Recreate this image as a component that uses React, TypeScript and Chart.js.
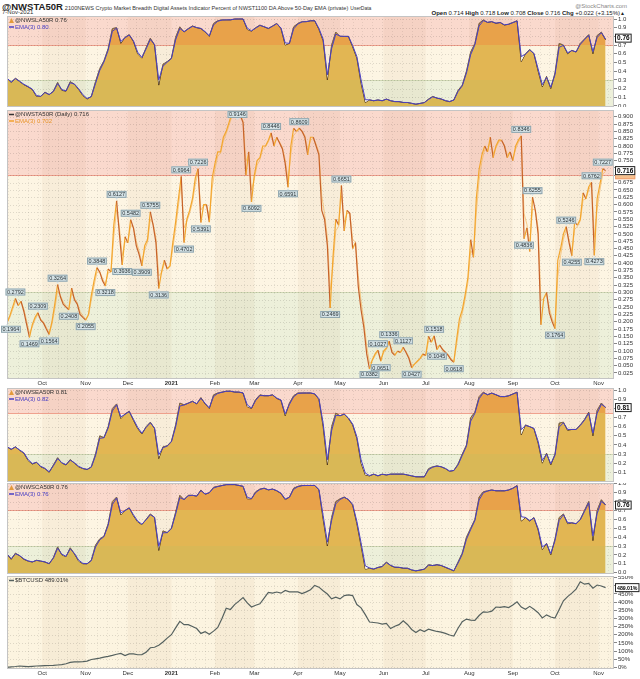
import React, { useEffect, useRef } from 'react';
import { Chart, registerables } from 'chart.js';

Chart.register(...registerables);

const FONT = '"Liberation Sans", Arial, Helvetica, sans-serif';

// ---------- calendar ----------
const START_DATE = Date.UTC(2020, 8, 6); // first plotted day
const MAIN_STEP = 2; // days between samples of the main series
const PANEL_STEP = 3; // days between samples of the other panels
const X_MAX = 432;

const MONTH_TICKS: [number, number, string][] = [
  [2020, 9, 'Oct'], [2020, 10, 'Nov'], [2020, 11, 'Dec'], [2021, 0, '2021'], [2021, 1, 'Feb'],
  [2021, 2, 'Mar'], [2021, 3, 'Apr'], [2021, 4, 'May'], [2021, 5, 'Jun'], [2021, 6, 'Jul'],
  [2021, 7, 'Aug'], [2021, 8, 'Sep'], [2021, 9, 'Oct'], [2021, 10, 'Nov'],
];
const STRIPE_MONTHS: [number, number][] = [
  [2020, 8], [2020, 9], [2020, 10], [2020, 11], [2021, 0], [2021, 1], [2021, 2], [2021, 3],
  [2021, 4], [2021, 5], [2021, 6], [2021, 7], [2021, 8], [2021, 9], [2021, 10], [2021, 11],
];
const dayIndex = (y: number, m: number) => Math.round((Date.UTC(y, m, 1) - START_DATE) / 86400000);

// ---------- data ----------
const NWSTA50R = [
  0.1964, 0.22, 0.25, 0.2792, 0.255, 0.27, 0.235, 0.19, 0.1469, 0.19,
  0.215, 0.2309, 0.205, 0.195, 0.175, 0.1564, 0.2, 0.26, 0.3264, 0.285,
  0.26, 0.25, 0.2408, 0.315, 0.275, 0.26, 0.225, 0.215, 0.2055, 0.225,
  0.29, 0.34, 0.3848, 0.37, 0.34, 0.3218, 0.38, 0.37, 0.53, 0.6127,
  0.5, 0.3936, 0.49, 0.47, 0.5482, 0.52, 0.46, 0.43, 0.3909, 0.46,
  0.48, 0.5755, 0.53, 0.47, 0.3136, 0.37, 0.41, 0.38, 0.39, 0.47,
  0.54, 0.62, 0.6964, 0.4702, 0.55, 0.58, 0.62, 0.69, 0.7226, 0.5391,
  0.6, 0.6, 0.54, 0.69, 0.74, 0.78, 0.78, 0.83, 0.85, 0.88,
  0.91, 0.905, 0.9146, 0.905, 0.88, 0.7, 0.78, 0.6092, 0.7, 0.75,
  0.76, 0.8, 0.8, 0.82, 0.8446, 0.8, 0.83, 0.81, 0.79, 0.74,
  0.6591, 0.8, 0.86, 0.85, 0.8609, 0.85, 0.83, 0.77, 0.83, 0.83,
  0.8, 0.77, 0.58, 0.55, 0.46, 0.2469, 0.42, 0.55, 0.53, 0.6651,
  0.51, 0.58, 0.57, 0.45, 0.47, 0.32, 0.24, 0.18, 0.09, 0.0382,
  0.07, 0.09, 0.1027, 0.0651, 0.1, 0.11, 0.1336, 0.095, 0.085, 0.1,
  0.095, 0.1127, 0.095, 0.075, 0.0427, 0.055, 0.065, 0.075, 0.09, 0.085,
  0.15, 0.13, 0.1518, 0.1045, 0.12, 0.105, 0.095, 0.085, 0.07, 0.0618,
  0.14, 0.21, 0.24, 0.29, 0.35, 0.48, 0.42, 0.62, 0.72, 0.77,
  0.8, 0.78, 0.83, 0.76, 0.8, 0.82, 0.82, 0.8, 0.76, 0.78,
  0.75, 0.8, 0.82, 0.8346, 0.4836, 0.52, 0.44, 0.6255, 0.58, 0.5,
  0.19, 0.28, 0.3, 0.23, 0.2, 0.1764, 0.41, 0.45, 0.5, 0.5246,
  0.47, 0.4255, 0.54, 0.53, 0.55, 0.64, 0.62, 0.66, 0.6762, 0.4273,
  0.62, 0.67, 0.7227, 0.716,
];
const PEAK_IDX = [3, 11, 18, 32, 39, 44, 51, 62, 68, 82, 94, 104, 119, 132, 136, 141, 152, 183, 187, 199, 208, 212];
const TROUGH_IDX = [0, 8, 15, 22, 28, 35, 41, 48, 54, 63, 69, 87, 100, 115, 129, 133, 144, 153, 159, 184, 195, 201, 209];

const NWSLA50R = [
  0.32, 0.27, 0.32, 0.28, 0.245, 0.22, 0.19, 0.11, 0.11, 0.16,
  0.13, 0.17, 0.27, 0.18, 0.17, 0.28, 0.25, 0.19, 0.12, 0.08,
  0.11, 0.28, 0.43, 0.52, 0.66, 0.89, 0.9, 0.72, 0.79, 0.82,
  0.74, 0.6, 0.55, 0.67, 0.78, 0.7, 0.24, 0.48, 0.51, 0.55,
  0.79, 0.91, 0.85, 0.89, 0.92, 0.9, 0.89, 0.85, 0.8, 0.95,
  0.98, 0.99, 0.99, 0.99, 1.0, 1.0, 1.0, 0.88, 0.86, 0.9,
  0.93, 0.91, 0.89, 0.92, 0.95, 0.89, 0.7, 0.72, 0.91, 0.95,
  0.97, 0.97, 0.98, 0.98, 0.88, 0.75, 0.3, 0.7, 0.85, 0.8,
  0.8, 0.8, 0.68, 0.55, 0.26, 0.04, 0.07, 0.06, 0.07, 0.06,
  0.08, 0.06, 0.05, 0.05, 0.04, 0.04, 0.03, 0.02, 0.03, 0.04,
  0.08, 0.11, 0.09, 0.08, 0.06, 0.05, 0.07, 0.18, 0.24, 0.4,
  0.62, 0.72, 0.95, 0.99, 0.96, 0.97, 0.95, 0.96, 0.93, 0.94,
  0.96, 0.98, 0.51, 0.6, 0.65, 0.6, 0.4, 0.22, 0.34, 0.2,
  0.38, 0.72, 0.7, 0.6, 0.64, 0.62, 0.72, 0.77, 0.82, 0.6,
  0.81, 0.85, 0.76,
];
const NWSEA50R = [
  0.38, 0.35, 0.38, 0.34, 0.31, 0.23, 0.19, 0.21, 0.16, 0.14,
  0.1, 0.18, 0.26, 0.2, 0.18, 0.24, 0.2, 0.16, 0.14, 0.13,
  0.16, 0.3, 0.5, 0.48, 0.6, 0.8, 0.85, 0.69, 0.74, 0.77,
  0.67, 0.58, 0.52, 0.6, 0.65, 0.58, 0.25, 0.38, 0.39, 0.44,
  0.62, 0.86, 0.84, 0.86, 0.88, 0.85, 0.92, 0.85, 0.8, 0.95,
  0.97, 0.98, 0.99, 0.99, 0.98, 0.98, 0.97, 0.82, 0.8, 0.9,
  0.95, 0.94, 0.94, 0.95, 0.91, 0.89, 0.72, 0.86, 0.94, 0.97,
  0.97, 0.97, 0.97, 0.96, 0.9, 0.6, 0.18, 0.6, 0.75, 0.72,
  0.74, 0.69, 0.62, 0.47, 0.2, 0.07, 0.06, 0.08, 0.06, 0.08,
  0.07, 0.08, 0.08, 0.08, 0.08, 0.07, 0.06, 0.05, 0.05, 0.05,
  0.14, 0.16, 0.17, 0.16, 0.14, 0.11, 0.12, 0.19, 0.3, 0.4,
  0.7, 0.76, 0.93, 0.98, 0.95, 0.97, 0.95, 0.93, 0.93, 0.94,
  0.96, 0.98, 0.51, 0.62, 0.6, 0.58, 0.42, 0.2, 0.31, 0.18,
  0.3, 0.64, 0.65, 0.56, 0.57, 0.57, 0.62, 0.68, 0.76, 0.5,
  0.78, 0.86, 0.81,
];
const NWSCA50R = [
  0.21, 0.15, 0.22, 0.19, 0.15, 0.13, 0.12, 0.14, 0.13, 0.12,
  0.1, 0.17, 0.29, 0.2, 0.18, 0.28, 0.21, 0.13, 0.1, 0.1,
  0.14, 0.31, 0.38, 0.41, 0.55, 0.8, 0.85, 0.65, 0.7, 0.73,
  0.64, 0.57, 0.54, 0.6, 0.66, 0.62, 0.25, 0.47, 0.45, 0.5,
  0.68, 0.87, 0.82, 0.87, 0.87, 0.86, 0.93, 0.88, 0.9, 0.96,
  0.97, 0.98, 0.99, 0.99, 0.99, 0.98, 0.97, 0.83, 0.83, 0.91,
  0.94, 0.95, 0.93, 0.94, 0.92, 0.89, 0.82, 0.85, 0.95, 0.97,
  0.98, 0.98, 0.98, 0.98, 0.93, 0.6, 0.3, 0.62, 0.8, 0.83,
  0.85, 0.82, 0.76, 0.55, 0.3, 0.04, 0.05, 0.04, 0.06, 0.07,
  0.12, 0.08, 0.06, 0.06, 0.05, 0.05, 0.03, 0.02, 0.03, 0.04,
  0.09, 0.08, 0.09, 0.08, 0.06, 0.04, 0.02, 0.12, 0.22, 0.4,
  0.5, 0.6, 0.85, 0.91, 0.92, 0.93, 0.92, 0.92, 0.92, 0.93,
  0.95, 0.98, 0.58, 0.62, 0.58, 0.62, 0.48, 0.26, 0.33, 0.2,
  0.38, 0.62, 0.66, 0.55, 0.56, 0.55, 0.6, 0.7, 0.8, 0.36,
  0.7, 0.82, 0.76,
];
const BTCUSD = [
  0, 3, 5, 8, 6, 4, 6, 8, 9, 10,
  11, 12, 14, 16, 22, 30, 33, 33, 35, 38,
  48, 52, 56, 62, 67, 73, 80, 85, 72, 82,
  82, 77, 78, 93, 120, 123, 135, 155, 179, 200,
  242, 282, 262, 262, 250, 238, 208, 218, 203, 222,
  245, 300, 363, 355, 385, 406, 428, 395, 370, 381,
  390, 425, 460, 455, 462, 455, 472, 463, 463, 463,
  453, 463, 476, 503, 492, 470, 450, 420, 430, 420,
  440, 445, 440, 385, 365, 323, 278, 275, 272, 265,
  270, 238, 252, 262, 285, 263, 232, 214, 231, 220,
  234, 227, 220, 216, 208, 198, 192, 240, 280, 296,
  290, 288, 318, 340, 338, 345, 370, 368, 372, 367,
  382, 402, 370, 356, 374, 356, 335, 303, 322, 309,
  302, 355, 408, 434, 455, 480, 525, 510, 515, 486,
  505, 499, 489,
];

const TICKS_0_10 = [0, 0.1, 0.2, 0.3, 0.4, 0.5, 0.6, 0.7, 0.8, 0.9, 1.0];
const TICKS_1_10 = [0.1, 0.2, 0.3, 0.4, 0.5, 0.6, 0.7, 0.8, 0.9, 1.0];
const MAIN_TICKS = [
  0.025, 0.05, 0.075, 0.1, 0.125, 0.15, 0.175, 0.2, 0.225, 0.25, 0.275, 0.3,
  0.325, 0.35, 0.375, 0.4, 0.425, 0.45, 0.475, 0.5, 0.525, 0.55, 0.575, 0.6,
  0.625, 0.65, 0.675, 0.7, 0.725, 0.75, 0.775, 0.8, 0.825, 0.85, 0.875, 0.9,
];
const BTC_TICKS = [0, 50, 100, 150, 200, 250, 300, 350, 400, 450, 500, 550];

// ---------- helpers ----------
const toPoints = (vals: number[], step: number) => vals.map((v, i) => ({ x: i * step, y: v }));
const emaOf = (vals: number[], step: number) => {
  const a = 1 - Math.pow(0.5, step); // EMA(3) per day, applied to sampled data
  const out: number[] = [];
  let e = vals[0];
  for (const v of vals) { e = a * v + (1 - a) * e; out.push(e); }
  return out;
};

const RED_BG = '#FAD9CD';
const MID_BG = '#FDF5E3';
const LOW_BG = '#EDF0DA';
const RED_FILL = '#E8A24A';
const MID_FILL = '#E2B653';
const LOW_FILL = '#D9B856';

type LegendItem = { marker: 'tri' | 'dash'; mColor: string; text: string; tColor: string };
type Cfg = {
  kind: 'ind' | 'main' | 'btc';
  values: number[];
  step: number;
  yMin: number; yMax: number; yTicks: number[];
  fmt: (v: number) => string;
  redFrom?: number;
  showX: boolean; xHeight: number;
  legend: LegendItem[];
  box: { v: number; text: string; ema?: number };
};

function zoneFill(redFrom: number) {
  return (c: any) => {
    const chart = c.chart;
    const a = chart.chartArea;
    if (!a || !chart.scales.y) return MID_FILL;
    const y = chart.scales.y;
    const cl = (t: number) => Math.max(0, Math.min(1, t));
    const g = chart.ctx.createLinearGradient(0, a.top, 0, a.bottom);
    const p1 = cl((y.getPixelForValue(redFrom) - a.top) / (a.bottom - a.top));
    const p2 = cl((y.getPixelForValue(0.3) - a.top) / (a.bottom - a.top));
    g.addColorStop(0, RED_FILL); g.addColorStop(p1, RED_FILL);
    g.addColorStop(p1, MID_FILL); g.addColorStop(p2, MID_FILL);
    g.addColorStop(p2, LOW_FILL); g.addColorStop(1, LOW_FILL);
    return g;
  };
}

function makeChart(canvas: HTMLCanvasElement, cfg: Cfg) {
  const pts = toPoints(cfg.values, cfg.step);
  const emaVals = emaOf(cfg.values, cfg.step);
  const emaPts = toPoints(emaVals, cfg.step);

  let datasets: any[] = [];
  if (cfg.kind === 'ind') {
    datasets = [
      { data: pts, borderColor: '#4e3519', borderWidth: 1, pointRadius: 0, fill: 'start', backgroundColor: zoneFill(cfg.redFrom || 0.7), order: 2 },
      { data: emaPts, borderColor: '#4a40c6', borderWidth: 1, pointRadius: 0, fill: { target: 0, above: 'rgba(248,246,238,0.92)', below: 'rgba(0,0,0,0)' }, order: 1 },
    ];
  } else if (cfg.kind === 'main') {
    datasets = [
      {
        data: pts, borderWidth: 1.2, borderColor: '#F2A22E', pointRadius: 0, order: 1,
        segment: { borderColor: (c: any) => (c.p1.parsed.y >= c.p0.parsed.y ? '#F3A62E' : '#C6622A') },
      },
      { data: emaPts, borderColor: 'rgba(246,186,100,0.75)', borderWidth: 1, pointRadius: 0, order: 2 },
    ];
  } else {
    datasets = [{ data: pts, borderColor: '#55615f', borderWidth: 1.2, pointRadius: 0, order: 1 }];
  }

  const bands = cfg.kind === 'btc'
    ? [{ from: cfg.yMin, to: cfg.yMax, color: '#FCF4E0' }]
    : [
        { from: cfg.yMin, to: 0.3, color: LOW_BG },
        { from: 0.3, to: cfg.redFrom || 0.7, color: MID_BG },
        { from: cfg.redFrom || 0.7, to: cfg.yMax, color: RED_BG },
      ];

  const plugin = {
    id: 'panelDeco',
    beforeDatasetsDraw(chart: any) {
      const { ctx, chartArea: a, scales } = chart;
      const y = scales.y, x = scales.x;
      ctx.save();
      ctx.beginPath(); ctx.rect(a.left, a.top, a.width, a.height); ctx.clip();
      for (const b of bands) {
        const y1 = y.getPixelForValue(b.to), y2 = y.getPixelForValue(b.from);
        ctx.fillStyle = b.color; ctx.fillRect(a.left, y1, a.width, y2 - y1);
      }
      for (let i = 0; i < STRIPE_MONTHS.length - 1; i++) {
        if (STRIPE_MONTHS[i][1] % 2 === 1) {
          const x1 = x.getPixelForValue(dayIndex(STRIPE_MONTHS[i][0], STRIPE_MONTHS[i][1]));
          const x2 = x.getPixelForValue(dayIndex(STRIPE_MONTHS[i + 1][0], STRIPE_MONTHS[i + 1][1]));
          ctx.fillStyle = 'rgba(150,105,40,0.05)';
          ctx.fillRect(x1, a.top, x2 - x1, a.height);
        }
      }
      if (cfg.kind !== 'btc') {
        ctx.strokeStyle = 'rgba(235,140,120,0.8)'; ctx.lineWidth = 1;
        const ry = Math.round(y.getPixelForValue(cfg.redFrom || 0.7)) + 0.5;
        ctx.beginPath(); ctx.moveTo(a.left, ry); ctx.lineTo(a.right, ry); ctx.stroke();
        ctx.strokeStyle = 'rgba(200,210,170,0.8)';
        const gy = Math.round(y.getPixelForValue(0.3)) + 0.5;
        ctx.beginPath(); ctx.moveTo(a.left, gy); ctx.lineTo(a.right, gy); ctx.stroke();
      }
      ctx.setLineDash([1, 2]);
      ctx.strokeStyle = 'rgba(0,0,0,0.12)'; ctx.lineWidth = 1;
      for (const t of cfg.yTicks) {
        const py = Math.round(y.getPixelForValue(t)) + 0.5;
        ctx.beginPath(); ctx.moveTo(a.left, py); ctx.lineTo(a.right, py); ctx.stroke();
      }
      ctx.strokeStyle = 'rgba(0,0,0,0.08)';
      for (let d = 1; d < X_MAX; d += 7) {
        const px = Math.round(x.getPixelForValue(d)) + 0.5;
        ctx.beginPath(); ctx.moveTo(px, a.top); ctx.lineTo(px, a.bottom); ctx.stroke();
      }
      ctx.restore();
    },
    afterDraw(chart: any) {
      const { ctx, chartArea: a, scales } = chart;
      const y = scales.y, x = scales.x;
      ctx.save();
      // border
      ctx.strokeStyle = '#c4c4c4'; ctx.lineWidth = 1;
      ctx.strokeRect(a.left + 0.5, a.top + 0.5, a.width - 1, a.height - 1);

      // annotations on the main panel
      if (cfg.kind === 'main') {
        ctx.font = `5.5px ${FONT}`;
        ctx.textAlign = 'center'; ctx.textBaseline = 'middle';
        const drawLabel = (idx: number, up: boolean) => {
          const v = cfg.values[idx];
          const px = x.getPixelForValue(idx * cfg.step);
          const py = y.getPixelForValue(v);
          const txt = v.toFixed(4);
          const w = ctx.measureText(txt).width + 3, h = 7;
          let top = up ? py - 3 - h : py + 3;
          top = Math.max(a.top + 1, Math.min(a.bottom - h - 1, top));
          const left = Math.max(1, px - w / 2);
          ctx.fillStyle = '#D5E2E6'; ctx.strokeStyle = '#8FA5AD';
          ctx.fillRect(left, top, w, h); ctx.strokeRect(left + 0.5, top + 0.5, w - 1, h - 1);
          ctx.beginPath();
          if (up) { ctx.moveTo(px - 1.5, top + h); ctx.lineTo(px + 1.5, top + h); ctx.lineTo(px, top + h + 2); }
          else { ctx.moveTo(px - 1.5, top); ctx.lineTo(px + 1.5, top); ctx.lineTo(px, top - 2); }
          ctx.closePath(); ctx.fillStyle = '#D5E2E6'; ctx.fill();
          ctx.fillStyle = '#2a3438';
          ctx.fillText(txt, left + w / 2, top + h / 2 + 0.3);
        };
        PEAK_IDX.forEach((i) => drawLabel(i, true));
        TROUGH_IDX.forEach((i) => drawLabel(i, false));
      }

      // legend
      ctx.textAlign = 'left'; ctx.textBaseline = 'middle';
      ctx.font = `6px ${FONT}`;
      let ly = a.top + 4.5;
      for (const it of cfg.legend) {
        const lx = a.left + 2;
        if (it.marker === 'tri') {
          ctx.fillStyle = it.mColor;
          ctx.beginPath(); ctx.moveTo(lx, ly + 2.5); ctx.lineTo(lx + 5, ly + 2.5); ctx.lineTo(lx + 2.5, ly - 2.5); ctx.closePath(); ctx.fill();
        } else {
          ctx.strokeStyle = it.mColor; ctx.lineWidth = 1.5;
          ctx.beginPath(); ctx.moveTo(lx, ly); ctx.lineTo(lx + 5, ly); ctx.stroke();
        }
        ctx.fillStyle = it.tColor;
        ctx.fillText(it.text, lx + 6, ly + 0.3);
        ly += 6.5;
      }

      // current value box on the right axis
      const drawBox = (v: number, txt: string, fill: string, stroke: string, color: string) => {
        ctx.font = `bold ${txt.length > 5 ? 5.2 : 6.5}px ${FONT}`;
        const py = y.getPixelForValue(v);
        const w = Math.min(ctx.measureText(txt).width + 4, 640 - a.right - 1), h = 9;
        const bx = a.right + 1;
        ctx.fillStyle = fill; ctx.fillRect(bx, py - h / 2, w, h);
        ctx.strokeStyle = stroke; ctx.lineWidth = 1;
        ctx.strokeRect(bx + 0.5, py - h / 2 + 0.5, w - 1, h - 1);
        ctx.fillStyle = color; ctx.textAlign = 'left';
        ctx.fillText(txt, bx + 2, py + 0.5);
      };
      if (cfg.box.ema !== undefined) drawBox(cfg.box.ema, cfg.box.text, '#F7C18E', '#F0A070', '#F7C18E');
      drawBox(cfg.box.v, cfg.box.text, '#ffffff', '#222222', '#000000');
      ctx.restore();
    },
  };

  const yTickSet = cfg.yTicks;
  return new Chart(canvas, {
    type: 'line',
    data: { datasets },
    options: {
      animation: false,
      responsive: false,
      events: [],
      layout: { padding: { left: 7, right: 0, top: 0, bottom: 0 } },
      plugins: { legend: { display: false }, tooltip: { enabled: false } },
      scales: {
        x: {
          type: 'linear', min: 0, max: X_MAX, display: cfg.showX,
          afterBuildTicks: (s: any) => { s.ticks = MONTH_TICKS.map((m) => ({ value: dayIndex(m[0], m[1]) })); },
          afterFit: (s: any) => { s.height = cfg.xHeight; s.paddingLeft = 0; s.paddingRight = 0; },
          grid: { display: false, drawTicks: false, tickLength: 0 },
          border: { display: false },
          ticks: {
            autoSkip: false, maxRotation: 0, padding: 1, color: '#333',
            font: (c: any) => ({ family: FONT, size: 6, weight: c.index === 3 ? 'bold' : 'normal' }),
            callback: (v: any) => {
              const m = MONTH_TICKS.find((mm) => dayIndex(mm[0], mm[1]) === v);
              return m ? m[2] : '';
            },
          },
        },
        y: {
          type: 'linear', position: 'right', min: cfg.yMin, max: cfg.yMax,
          afterBuildTicks: (s: any) => { s.ticks = yTickSet.map((v) => ({ value: v })); },
          afterFit: (s: any) => { s.width = 26; s.paddingTop = 0; s.paddingBottom = 0; },
          grid: { drawOnChartArea: false, drawTicks: true, tickLength: 3, color: '#888' },
          border: { display: false },
          ticks: {
            autoSkip: false, padding: 1, color: '#333',
            font: { family: FONT, size: 6 },
            callback: (v: any) => cfg.fmt(Number(v)),
          },
        },
      },
    },
    plugins: [plugin],
  } as any);
}

function Panel({ top, height, cfg }: { top: number; height: number; cfg: Cfg }) {
  const ref = useRef<HTMLCanvasElement>(null);
  useEffect(() => {
    const ch = makeChart(ref.current as HTMLCanvasElement, cfg);
    return () => ch.destroy();
  }, []);
  return (
    <div style={{ position: 'absolute', left: 0, top, width: 640, height }}>
      <canvas ref={ref} width={640} height={height} style={{ width: 640, height, display: 'block' }} />
    </div>
  );
}

const fmt1 = (v: number) => v.toFixed(1);
const fmt3 = (v: number) => v.toFixed(3);
const fmtPct = (v: number) => `${Math.round(v)}%`;

const CFG_LA: Cfg = {
  kind: 'ind', values: NWSLA50R, step: PANEL_STEP, yMin: -0.0115, yMax: 1.0345, yTicks: TICKS_0_10, fmt: fmt1,
  redFrom: 0.7, showX: false, xHeight: 0,
  legend: [
    { marker: 'tri', mColor: '#E39A3C', text: '@NWSLA50R 0.76', tColor: '#333' },
    { marker: 'dash', mColor: '#4a40c6', text: 'EMA(3) 0.80', tColor: '#4a40c6' },
  ],
  box: { v: 0.78, text: '0.76' },
};
const CFG_MAIN: Cfg = {
  kind: 'main', values: NWSTA50R, step: MAIN_STEP, yMin: 0.0044, yMax: 0.923, yTicks: MAIN_TICKS, fmt: fmt3,
  redFrom: 0.7, showX: true, xHeight: 9,
  legend: [
    { marker: 'dash', mColor: '#333', text: '@NWSTA50R (Daily) 0.716', tColor: '#333' },
    { marker: 'dash', mColor: '#F2A22E', text: 'EMA(3) 0.702', tColor: '#E8962A' },
  ],
  box: { v: 0.716, text: '0.716', ema: 0.702 },
};
const CFG_EA: Cfg = {
  kind: 'ind', values: NWSEA50R, step: PANEL_STEP, yMin: -0.0066, yMax: 1.025, yTicks: TICKS_1_10, fmt: fmt1,
  redFrom: 0.75, showX: false, xHeight: 0,
  legend: [
    { marker: 'tri', mColor: '#E39A3C', text: '@NWSEA50R 0.81', tColor: '#333' },
    { marker: 'dash', mColor: '#4a40c6', text: 'EMA(3) 0.82', tColor: '#4a40c6' },
  ],
  box: { v: 0.81, text: '0.81' },
};
const CFG_CA: Cfg = {
  kind: 'ind', values: NWSCA50R, step: PANEL_STEP, yMin: -0.0146, yMax: 1.008, yTicks: TICKS_0_10, fmt: fmt1,
  redFrom: 0.7, showX: false, xHeight: 0,
  legend: [
    { marker: 'tri', mColor: '#E39A3C', text: '@NWSCA50R 0.76', tColor: '#333' },
    { marker: 'dash', mColor: '#4a40c6', text: 'EMA(3) 0.76', tColor: '#4a40c6' },
  ],
  box: { v: 0.76, text: '0.76' },
};
const CFG_BTC: Cfg = {
  kind: 'btc', values: BTCUSD, step: PANEL_STEP, yMin: -10.4, yMax: 560.4, yTicks: BTC_TICKS, fmt: fmtPct,
  showX: true, xHeight: 10,
  legend: [{ marker: 'dash', mColor: '#55615f', text: '$BTCUSD 489.01%', tColor: '#333' }],
  box: { v: 489, text: '489.01%' },
};

export default function App() {
  return (
    <div style={{ position: 'fixed', left: 0, top: 0, width: 640, height: 679, background: '#fff', overflow: 'hidden', fontFamily: FONT }}>
      <div style={{ position: 'absolute', left: 2, top: 0, whiteSpace: 'nowrap', lineHeight: '10px', color: '#222' }}>
        <span style={{ fontWeight: 'bold', fontSize: 9.5 }}>@NWSTA50R</span>
        <span style={{ fontSize: 5.6, marginLeft: 2, color: '#333' }}>2100NEWS Crypto Market Breadth Digital Assets Indicator Percent of NWST1100 DA Above 50-Day EMA (private)</span>
        <span style={{ fontSize: 5, marginLeft: 2, color: '#333' }}>UserData</span>
      </div>
      <div style={{ position: 'absolute', left: 2, top: 8.5, fontSize: 6, lineHeight: '6px', color: '#333', whiteSpace: 'nowrap' }}>7-Nov-2021</div>
      <div style={{ position: 'absolute', right: 13, top: 2.5, fontSize: 6, lineHeight: '6px', color: '#888', whiteSpace: 'nowrap' }}>@StockCharts.com</div>
      <div style={{ position: 'absolute', right: 15, top: 9.5, fontSize: 6, lineHeight: '6px', color: '#222', whiteSpace: 'nowrap' }}>
        <b>Open</b> 0.714 <b>High</b> 0.718 <b>Low</b> 0.708 <b>Close</b> 0.716 <b>Chg</b> +0.022 (+3.15%)<span style={{ fontSize: 5 }}>▲</span>
      </div>
      <Panel top={16} height={91} cfg={CFG_LA} />
      <Panel top={110} height={278} cfg={CFG_MAIN} />
      <Panel top={388} height={94} cfg={CFG_EA} />
      <Panel top={483} height={91} cfg={CFG_CA} />
      <Panel top={576} height={103} cfg={CFG_BTC} />
    </div>
  );
}
